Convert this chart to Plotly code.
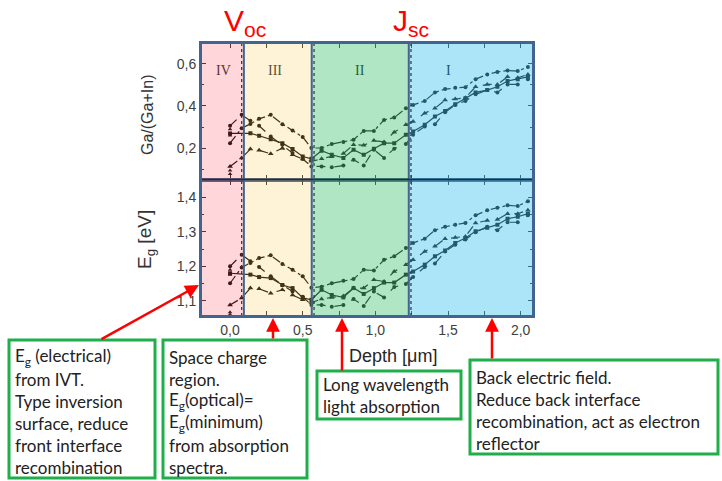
import plotly.graph_objects as go
from plotly.subplots import make_subplots

# Depth grid (µm) shared by all profiles
depth = [0.0, 0.08, 0.14, 0.20, 0.28, 0.36, 0.43, 0.50, 0.56,
         0.63, 0.70, 0.78, 0.85, 0.92, 0.99, 1.06, 1.13, 1.21,
         1.26, 1.34, 1.41, 1.48, 1.55, 1.62, 1.69, 1.77, 1.84, 1.91, 1.98, 2.05]

# Ga/(Ga+In) depth profiles
ggi_s1 = [0.224, 0.295,
          0.315, 0.339, 0.358, 0.314, 0.284, 0.253, 0.201,
          0.201, 0.220, 0.229, 0.240, 0.282, 0.282, 0.334, 0.345, 0.389,
          0.405, 0.424, 0.464, 0.480, 0.486, 0.489, 0.527, 0.549, 0.561, 0.568, 0.565, 0.585]
ggi_s2 = [0.114, 0.154,
          0.196, 0.190, 0.174, 0.200, 0.169, 0.149, 0.138,
          0.150, 0.160, 0.175, 0.217, 0.214, 0.236, 0.230, 0.276, 0.311,
          0.326, 0.366, 0.389, 0.428, 0.433, 0.439, 0.491, 0.502, 0.502, 0.538, 0.533, 0.549]
ggi_s3 = [0.270, None,
          0.271, 0.259, 0.243, 0.224, 0.196, 0.161, 0.150,
          0.188, 0.169, 0.154, 0.193, 0.169, 0.198, 0.224, 0.224, 0.264,
          0.279, 0.311, 0.350, 0.376, 0.408, 0.436, 0.464, 0.475, 0.491, 0.518, 0.527, 0.538]
ggi_s4 = [0.306, 0.358,
          0.330, 0.306, 0.256, 0.216, 0.177, 0.149, 0.114,
          0.114, 0.110, 0.118, 0.146, 0.118, 0.193, 0.154, 0.198, 0.220,
          0.264, 0.303, 0.314, 0.370, 0.405, 0.424, 0.455, 0.475, 0.464, 0.502, 0.502, 0.527]

# Band gap depth profiles (eV)
eg_s1 = [1.151, 1.197,
         1.210, 1.224, 1.232, 1.207, 1.190, 1.171, 1.138,
         1.141, 1.151, 1.158, 1.163, 1.190, 1.188, 1.219, 1.229, 1.253,
         1.268, 1.280, 1.305, 1.315, 1.321, 1.326, 1.348, 1.363, 1.370, 1.377, 1.375, 1.389]
eg_s2 = [1.088, 1.108,
         1.137, 1.135, 1.122, 1.132, 1.117, 1.103, 1.095,
         1.105, 1.110, 1.114, 1.137, 1.137, 1.161, 1.156, 1.185, 1.205,
         1.219, 1.243, 1.258, 1.280, 1.284, 1.287, 1.326, 1.333, 1.336, 1.353, 1.353, 1.363]
eg_s3 = [1.180, None,
         1.176, 1.169, 1.166, 1.146, 1.137, 1.109, 1.103,
         1.132, 1.117, 1.110, 1.137, 1.120, 1.137, 1.153, 1.153, 1.176,
         1.185, 1.205, 1.229, 1.246, 1.268, 1.282, 1.302, 1.312, 1.321, 1.338, 1.344, 1.353]
eg_s4 = [1.200, 1.234,
         1.215, 1.198, 1.171, 1.146, 1.127, 1.112, 1.088,
         1.088, 1.083, 1.088, 1.105, 1.085, 1.127, 1.110, 1.140, 1.149,
         1.169, 1.198, 1.208, 1.243, 1.263, 1.278, 1.299, 1.315, 1.305, 1.328, 1.328, 1.348]

# Extra surface points
surf_depth = [0.0, 0.0, 0.0, 0.0]
surf_ggi = [0.290, 0.260, 0.095, 0.078]
surf_eg = [1.190, 1.176, 1.067, 1.060]

# Region boundaries (µm) and labels
region_edges = [-0.2, 0.095, 0.562, 1.23, 2.085]
region_labels = ["IV", "III", "II", "I"]
region_label_x = [-0.048, 0.31, 0.895, 1.50]
region_fill = ["rgb(255,55,70)", "rgb(255,195,55)", "rgb(67,195,115)", "rgb(57,191,238)"]
region_alpha = [0.2, 0.2, 0.42, 0.42]
region_text_color = ["#5a3434", "#5a5238", "#25603a", "#22536a"]
dotted_x = [0.08, 0.578, 1.245]

series_styles = [
    dict(dash="dashdot", symbol="circle", size=4),
    dict(dash="dash", symbol="triangle-up", size=5),
    dict(dash="solid", symbol="square", size=4),
    dict(dash="dash", symbol="circle", size=4),
]

W, H = 722, 481
PL, PR, PT, PB = 201, 533, 43, 316


def pxx(px):
    return (px - PL) / (PR - PL)


def pxy(py):
    return (PB - py) / (PB - PT)


fig = make_subplots(rows=2, cols=1, shared_xaxes=True, vertical_spacing=0)

for row, profiles, extra in [(1, [ggi_s1, ggi_s2, ggi_s3, ggi_s4], surf_ggi),
                             (2, [eg_s1, eg_s2, eg_s3, eg_s4], surf_eg)]:
    for vals, st in zip(profiles, series_styles):
        fig.add_trace(go.Scatter(
            x=depth, y=vals, mode="lines+markers", connectgaps=True,
            line=dict(color="#111111", width=1.2, dash=st["dash"]),
            marker=dict(color="#111111", size=st["size"], symbol=st["symbol"]),
            showlegend=False, hoverinfo="skip"), row=row, col=1)
    fig.add_trace(go.Scatter(
        x=surf_depth, y=extra, mode="markers",
        marker=dict(color="#111111", size=4, symbol="triangle-up"),
        showlegend=False, hoverinfo="skip"), row=row, col=1)

frame_color = "#416590"
tick_font = dict(family="Liberation Sans, Arial, sans-serif", size=14, color="#404040")

axis_common = dict(ticks="inside", ticklen=5, tickwidth=1.2, tickcolor="#333333",
                   showgrid=False, zeroline=False, showline=True,
                   linecolor=frame_color, linewidth=2, mirror="ticks",
                   tickfont=tick_font)

fig.update_xaxes(range=[-0.2, 2.085], dtick=0.5, tick0=0, tickformat=".1f",
                 minor=dict(dtick=0.25, ticks="inside", ticklen=5, tickcolor="#333333"),
                 **axis_common)
fig.update_xaxes(showticklabels=False, row=1, col=1)
fig.update_yaxes(range=[0.052, 0.698], dtick=0.2, tick0=0, tickformat=".1f",
                 minor=dict(dtick=0.1, ticks="inside", ticklen=3, tickcolor="#333333"),
                 row=1, col=1, **axis_common)
fig.update_yaxes(range=[1.056, 1.452], dtick=0.1, tick0=1.0, tickformat=".1f",
                 minor=dict(dtick=0.05, ticks="inside", ticklen=3, tickcolor="#333333"),
                 row=2, col=1, **axis_common)

shapes = []
# tinted depth regions laid over the profiles
for i in range(4):
    shapes.append(dict(type="rect", xref="x", yref="paper",
                       x0=region_edges[i], x1=region_edges[i + 1], y0=0, y1=1,
                       fillcolor=region_fill[i], opacity=region_alpha[i],
                       line=dict(width=0), layer="above"))
for xd in dotted_x:
    shapes.append(dict(type="line", xref="x", yref="paper", x0=xd, x1=xd, y0=0, y1=1,
                       line=dict(color="#333333", width=1.2, dash="dot"), layer="above"))
for xb in region_edges[1:-1]:
    shapes.append(dict(type="line", xref="x", yref="paper", x0=xb, x1=xb, y0=0, y1=1,
                       line=dict(color=frame_color, width=2), layer="above"))
shapes.append(dict(type="line", xref="paper", yref="paper", x0=0, x1=1, y0=0.5, y1=0.5,
                   line=dict(color="#2a2a2a", width=1.5), layer="above"))
shapes.append(dict(type="rect", xref="paper", yref="paper", x0=0, x1=1, y0=0, y1=1,
                   line=dict(color=frame_color, width=2), layer="above"))

# annotation boxes
box_green = "#1fae4a"
boxes = [
    dict(x0=9, x1=155, y0=340, y1=478, first=357,
         lines=["E<sub>g</sub> (electrical)", "from IVT.", "Type inversion",
                "surface, reduce", "front interface", "recombination"]),
    dict(x0=163, x1=307, y0=340, y1=478, first=357,
         lines=["Space charge", "region.", "E<sub>g</sub>(optical)=",
                "E<sub>g</sub>(minimum)", "from absorption", "spectra."]),
    dict(x0=317, x1=461, y0=371, y1=419, first=384,
         lines=["Long wavelength", "light absorption"]),
    dict(x0=470, x1=718, y0=360, y1=454, first=377,
         lines=["Back electric field.", "Reduce back interface",
                "recombination, act as electron", "reflector"]),
]
annotations = []
box_font = dict(family="Lato, sans-serif", size=17, color="#222222")
for b in boxes:
    shapes.append(dict(type="rect", xref="paper", yref="paper",
                       x0=pxx(b["x0"]), x1=pxx(b["x1"]), y0=pxy(b["y1"]), y1=pxy(b["y0"]),
                       line=dict(color=box_green, width=3), fillcolor="white"))
    for k, t in enumerate(b["lines"]):
        annotations.append(dict(xref="paper", yref="paper", x=pxx(b["x0"] + 4),
                                y=pxy(b["first"] + 22 * k), xanchor="left", yanchor="middle",
                                text=t, showarrow=False, font=box_font, align="left"))

# red arrows from boxes to depth positions
arrows = [((199, 285), (100, 340)), ((273, 318), (273, 340)),
          ((342, 318), (342, 372)), ((492, 318), (492, 360))]
for (tx, ty), (sx, sy) in arrows:
    annotations.append(dict(xref="paper", yref="paper", x=pxx(tx), y=pxy(ty),
                            ax=sx - tx, ay=sy - ty, text="", showarrow=True,
                            arrowhead=2, arrowsize=1.1, arrowwidth=2.5,
                            arrowcolor="#ff0000", standoff=0))

# region numerals
for lab, xl, col in zip(region_labels, region_label_x, region_text_color):
    annotations.append(dict(xref="x", yref="paper", x=xl, y=pxy(70), text=lab,
                            showarrow=False, xanchor="center", yanchor="middle",
                            font=dict(family="Liberation Serif, serif", size=14, color=col)))

# axis titles
annotations.append(dict(xref="paper", yref="paper", x=pxx(148), y=pxy(115),
                        text="Ga/(Ga+In)", textangle=-90, showarrow=False,
                        xanchor="center", yanchor="middle",
                        font=dict(family="Liberation Sans, Arial, sans-serif", size=16, color="#333333")))
annotations.append(dict(xref="paper", yref="paper", x=pxx(146), y=pxy(240),
                        text="E<sub>g</sub> [eV]", textangle=-90, showarrow=False,
                        xanchor="center", yanchor="middle",
                        font=dict(family="Liberation Sans, Arial, sans-serif", size=19, color="#333333")))
annotations.append(dict(xref="paper", yref="paper", x=pxx(393), y=pxy(356),
                        text="Depth [μm]", showarrow=False, xanchor="center", yanchor="middle",
                        font=dict(family="Liberation Sans, Arial, sans-serif", size=18, color="#262626")))

# device parameter labels
annotations.append(dict(xref="paper", yref="paper", x=pxx(222), y=pxy(22),
                        text="V<sub>oc</sub>", showarrow=False, xanchor="left", yanchor="middle",
                        font=dict(family="Liberation Sans, Arial, sans-serif", size=30, color="#ff0000")))
annotations.append(dict(xref="paper", yref="paper", x=pxx(391), y=pxy(22),
                        text="J<sub>sc</sub>", showarrow=False, xanchor="left", yanchor="middle",
                        font=dict(family="Liberation Sans, Arial, sans-serif", size=30, color="#ff0000")))

fig.update_layout(width=W, height=H, margin=dict(l=PL, r=W - PR, t=PT, b=H - PB),
                  paper_bgcolor="white", plot_bgcolor="white", separators=",.",
                  shapes=shapes, annotations=annotations, showlegend=False)

fig.write_html("out.html")
